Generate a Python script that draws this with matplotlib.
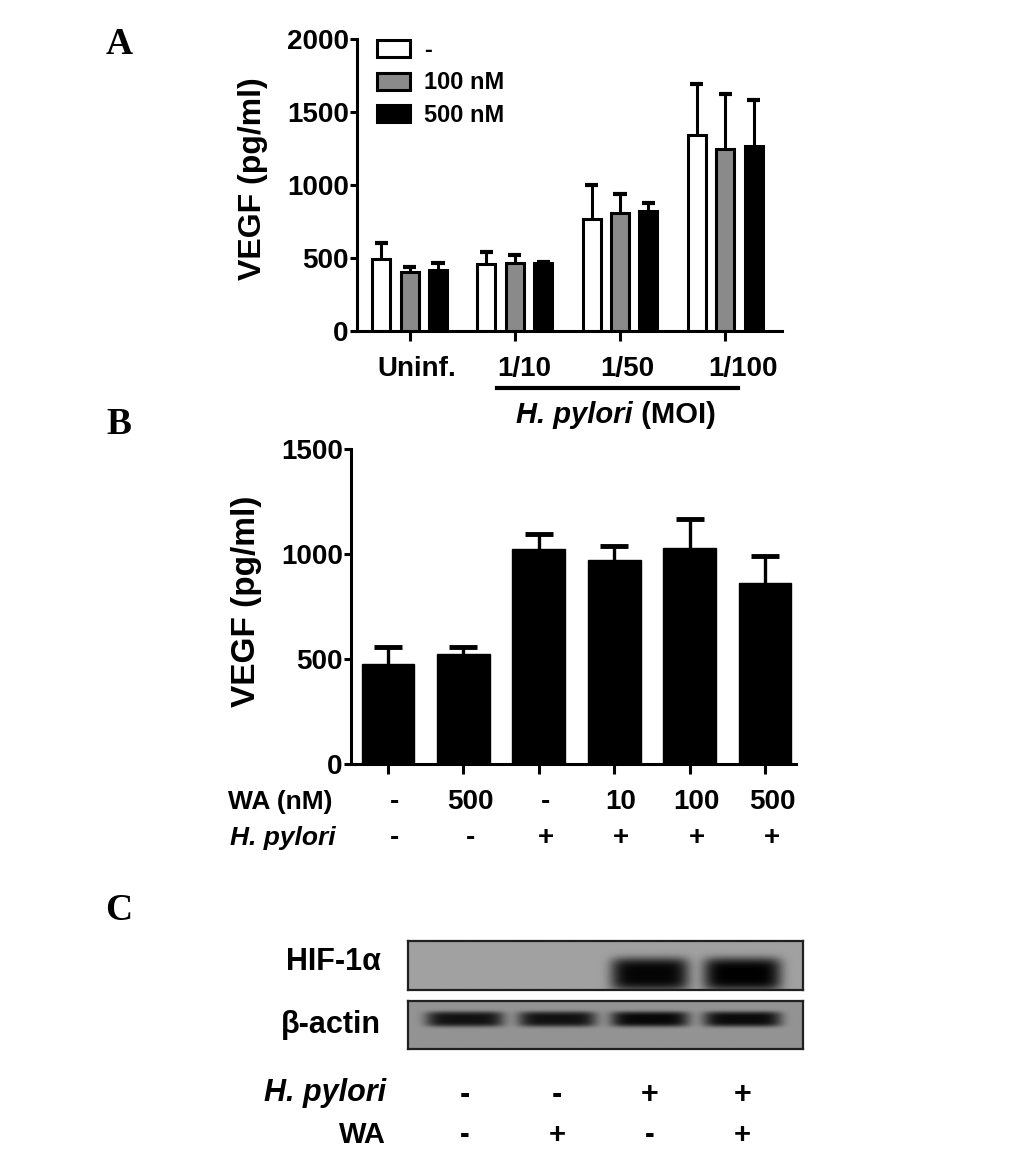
import numpy as np
import matplotlib.pyplot as plt
from matplotlib import transforms

plt.rcParams['font.family'] = ['Liberation Sans', 'DejaVu Sans']
plt.rcParams['font.weight'] = 'bold'

# ---- panel A: VEGF by MOI and WA dose
groups_a = ['Uninf.', '1/10', '1/50', '1/100']
doses_a = ['-', '100 nM', '500 nM']
vegf_ctrl = [495, 462, 770, 1345]
vegf_100 = [402, 468, 811, 1247]
vegf_500 = [420, 466, 825, 1265]
err_ctrl = [105, 78, 232, 345]
err_100 = [35, 54, 130, 375]
err_500 = [47, 7, 49, 315]

# ---- panel B: VEGF with WA +/- H. pylori
wa_b = ['-', '500', '-', '10', '100', '500']
hp_b = ['-', '-', '+', '+', '+', '+']
vegf_b = [478, 522, 1026, 970, 1027, 863]
err_b = [80, 34, 71, 70, 138, 129]

# ---- panel C: western blot
lanes_hp = ['-', '-', '+', '+']
lanes_wa = ['-', '+', '-', '+']
hif_level = [0.0, 0.0, 0.97, 1.0]
actin_level = [0.88, 0.88, 0.95, 0.93]

W, H = 1033, 1152
fig = plt.figure(figsize=(W / 100, H / 100), dpi=100)


def box(x0, y0, x1, y1):
    return [x0 / W, 1 - y1 / H, (x1 - x0) / W, (y1 - y0) / H]


def style_axes(ax):
    for s in ['top', 'right']:
        ax.spines[s].set_visible(False)
    for s in ['left', 'bottom']:
        ax.spines[s].set_linewidth(2.2)
    ax.tick_params(axis='y', length=5, width=2.2, labelsize=20, pad=1)
    ax.tick_params(axis='x', length=7, width=2.2, labelsize=20, pad=11)


def up_err(ax, xs, vals, errs, half, lw, cap_lw):
    # upper-only error bars: stem from bar top plus a cap
    xs = np.asarray(xs, float)
    tops = np.asarray(vals) + np.asarray(errs)
    ax.vlines(xs, vals, tops, color='black', lw=lw, zorder=1)
    ax.hlines(tops, xs - half, xs + half, color='black', lw=cap_lw, zorder=1)


# ---------------- A
axA = fig.add_axes(box(357, 39, 782, 331))
x = np.arange(len(groups_a))
for off, vals, errs, fc, lab in zip([-0.27, 0, 0.27],
                                    [vegf_ctrl, vegf_100, vegf_500],
                                    [err_ctrl, err_100, err_500],
                                    ['white', '#8a8a8a', 'black'], doses_a):
    axA.bar(x + off, vals, 0.17, color=fc, edgecolor='black', linewidth=2.2,
            label=lab, zorder=2)
    up_err(axA, x + off, vals, errs, 0.062, 2.2, 3)
axA.set_xlim(-0.50, 3.54)
axA.set_ylim(0, 2000)
axA.set_yticks([0, 500, 1000, 1500, 2000])
axA.set_xticks(x)
axA.set_xticklabels(groups_a)
style_axes(axA)
for lab, dx in zip(axA.get_xticklabels(), [5, 6.5, 5, 13]):
    lab.set_transform(lab.get_transform() +
                      transforms.ScaledTranslation(dx / 72, 0, fig.dpi_scale_trans))
axA.legend(loc='upper left', bbox_to_anchor=(0.047, 1.0), frameon=False,
           fontsize=17, handlelength=1.4, handleheight=0.75, handletextpad=0.6,
           labelspacing=0.4, borderpad=0, borderaxespad=0)
tA = transforms.blended_transform_factory(axA.transData, axA.transAxes)
axA.plot([0.83, 3.12], [-0.195, -0.195], color='black', lw=3, transform=tA,
         clip_on=False)
axA.text(2.12, -0.288, 'H. pylori', transform=tA, ha='right', va='center',
         fontsize=21, style='italic')
axA.text(2.12, -0.288, ' (MOI)', transform=tA, ha='left', va='center', fontsize=21)
fig.text(253 / W, 1 - 179 / H, 'VEGF (pg/ml)', rotation=90, ha='center',
         va='center', fontsize=23)

# ---------------- B
axB = fig.add_axes(box(351, 449, 796, 764))
xb = np.arange(len(vegf_b))
axB.bar(xb, vegf_b, 0.70, color='black', edgecolor='black', zorder=2)
up_err(axB, xb, vegf_b, err_b, 0.186, 2.4, 3.5)
axB.set_xlim(-0.49, 5.41)
axB.set_ylim(0, 1500)
axB.set_yticks([0, 500, 1000, 1500])
axB.set_xticks(xb)
axB.set_xticklabels([])
style_axes(axB)
tB = transforms.blended_transform_factory(axB.transData, axB.transAxes)
shift = transforms.ScaledTranslation(5 / 72, 0, fig.dpi_scale_trans)
for i in xb:
    axB.text(i, -0.121, wa_b[i], transform=tB + shift, ha='center', va='center',
             fontsize=20)
    axB.text(i, -0.235, hp_b[i], transform=tB + shift, ha='center', va='center',
             fontsize=20)
axB.text(-0.73, -0.121, 'WA (nM)', transform=tB, ha='right', va='center',
         fontsize=19)
axB.text(-0.70, -0.235, 'H. pylori', transform=tB, ha='right', va='center',
         fontsize=19, style='italic')
fig.text(246 / W, 1 - 601 / H, 'VEGF (pg/ml)', rotation=90, ha='center',
         va='center', fontsize=24)

# ---------------- C
xlo, xhi = -0.61, 3.65
xs = np.linspace(xlo, xhi, 500)
ys = np.linspace(0, 1, 80)
X, Y = np.meshgrid(xs, ys)


def blot(levels, yc, hh, hw, bg):
    dark = np.zeros_like(X)
    for i, lv in enumerate(levels):
        dark += lv * np.exp(-(np.abs(X - i) / hw) ** 6) * np.exp(-(np.abs(Y - yc) / hh) ** 4)
    return bg * (1 - np.clip(dark, 0, 1))


axH = fig.add_axes(box(408, 941, 803, 990))
axH.imshow(blot(hif_level, 0.68, 0.34, 0.42, 0.63), cmap='gray', vmin=0, vmax=1,
           extent=(xlo, xhi, 1, 0), aspect='auto', interpolation='bilinear')
axAc = fig.add_axes(box(408, 1001, 803, 1049))
axAc.imshow(blot(actin_level, 0.375, 0.16, 0.42, 0.58), cmap='gray', vmin=0,
            vmax=1, extent=(xlo, xhi, 1, 0), aspect='auto',
            interpolation='bilinear')
for ax in (axH, axAc):
    ax.set_xticks([])
    ax.set_yticks([])
    for s in ax.spines.values():
        s.set_linewidth(1.6)
        s.set_color('#202020')

fig.text(381 / W, 1 - 962 / H, 'HIF-1α', ha='right', va='center', fontsize=22)
fig.text(381 / W, 1 - 1025 / H, 'β-actin', ha='right', va='center', fontsize=22)
fig.text(386 / W, 1 - 1093 / H, 'H. pylori', ha='right', va='center',
         fontsize=22, style='italic')
fig.text(386 / W, 1 - 1135 / H, 'WA', ha='right', va='center', fontsize=21)
tC = transforms.blended_transform_factory(axH.transData, fig.transFigure)
for i in range(len(lanes_hp)):
    fig.text(i, 1 - 1095 / H, lanes_hp[i], transform=tC, ha='center',
             va='center', fontsize=22)
    fig.text(i, 1 - 1135 / H, lanes_wa[i], transform=tC, ha='center',
             va='center', fontsize=21)

# panel letters
for lt, ypx in zip(['A', 'B', 'C'], [45, 424, 910]):
    fig.text(119 / W, 1 - ypx / H, lt, ha='center', va='center', fontsize=27,
             family='Liberation Serif', weight='bold')

fig.savefig('out.png', dpi=100, facecolor='white')
